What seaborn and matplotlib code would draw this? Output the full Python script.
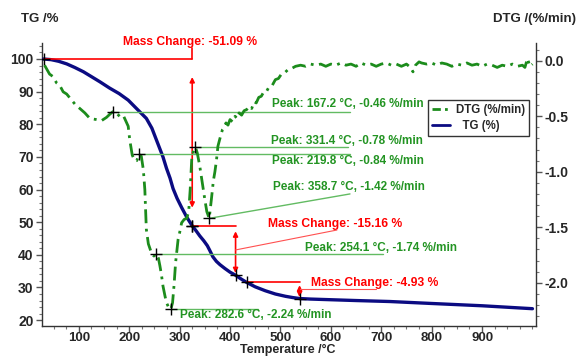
import numpy as np
import pandas as pd
import matplotlib
matplotlib.use("Agg")
import matplotlib.pyplot as plt
import seaborn as sns
from matplotlib.ticker import MultipleLocator
from matplotlib.lines import Line2D

# ---- measured data -------------------------------------------------------
tg_temp = [30, 45, 60, 76, 92, 109, 125, 142, 161, 180, 198, 214, 234, 245, 254,
           267, 274, 281, 287, 295, 304, 314, 320, 325, 333, 340, 348, 355, 360,
           366, 373, 380, 390, 400, 411, 422, 433, 450, 470, 490, 510, 525, 538,
           560, 600, 650, 717, 800, 900, 1000]
tg_mass = [100.0, 99.8, 99.3, 98.5, 97.4, 96.1, 94.6, 93.0, 91.1, 89.4, 87.4, 84.9,
           81.8, 78.8, 75.2, 70.0, 66.5, 63.5, 60.3, 57.3, 54.5, 51.6, 50.1, 48.91,
           47.3, 45.8, 44.3, 42.8, 41.3, 39.4, 38.0, 37.0, 35.8, 34.7, 33.75, 32.6,
           31.55, 30.2, 29.0, 28.0, 27.3, 26.9, 26.62, 26.45, 26.25, 26.0, 25.7,
           25.1, 24.4, 23.5]

dtg_temp = [32, 42, 48, 56, 62, 69, 76, 85, 94, 102, 112, 122, 135, 145, 155, 162,
            167.2, 174, 181, 188, 194, 198, 201, 206, 211, 215, 219.8, 224, 228,
            231, 234, 238, 244, 249, 254.1, 258, 261, 264, 267, 271, 274, 278,
            282.6, 286, 289, 292, 297, 300, 304, 309, 314, 318, 321, 324, 328,
            331.4, 335, 340, 345, 350, 354, 358.7, 363, 367, 370, 373, 376, 380,
            385, 388, 392, 396, 400, 405, 410, 414, 418, 423, 428, 433, 438, 443,
            448, 452, 457, 462, 467, 472, 478, 484, 490, 496, 502, 508, 515, 522,
            530, 540, 550, 560, 570, 580, 590, 600, 610, 620, 630, 640, 650, 660,
            670, 680, 690, 700, 710, 720, 730, 740, 750, 758, 763, 768, 775, 780,
            790, 800, 810, 820, 830, 840, 850, 860, 870, 880, 890, 900, 910, 920,
            930, 940, 950, 960, 970, 980, 985, 990, 995, 1000]
dtg_rate = [-0.04, -0.12, -0.14, -0.20, -0.22, -0.28, -0.30, -0.35, -0.40, -0.43,
            -0.47, -0.52, -0.53, -0.54, -0.51, -0.48, -0.46, -0.47, -0.50, -0.49,
            -0.55, -0.59, -0.71, -0.85, -0.90, -0.90, -0.84, -0.86, -0.98, -1.16,
            -1.52, -1.65, -1.73, -1.76, -1.74, -1.78, -1.85, -1.93, -2.03, -2.12,
            -2.18, -2.22, -2.24, -2.18, -2.02, -1.82, -1.61, -1.55, -1.46, -1.43,
            -1.42, -1.36, -1.16, -0.89, -0.80, -0.78, -0.83, -0.95, -1.10, -1.25,
            -1.36, -1.42, -1.25, -1.08, -1.00, -0.90, -0.77, -0.70, -0.62, -0.60,
            -0.56, -0.58, -0.53, -0.55, -0.50, -0.52, -0.47, -0.49, -0.45, -0.44,
            -0.41, -0.43, -0.37, -0.38, -0.33, -0.32, -0.28, -0.28, -0.23, -0.22,
            -0.17, -0.16, -0.12, -0.11, -0.08, -0.07, -0.05, -0.04, -0.05, -0.03,
            -0.04, -0.03, -0.05, -0.03, -0.04, -0.02, -0.04, -0.03, -0.05, -0.02,
            -0.04, -0.03, -0.05, -0.03, -0.02, -0.04, -0.03, -0.05, -0.03, -0.06,
            -0.10, -0.04, -0.01, -0.02, -0.03, -0.02, -0.04, -0.02, -0.03, -0.05,
            -0.03, -0.04, -0.02, -0.04, -0.03, -0.05, -0.03, -0.04, -0.06, -0.04,
            -0.05, -0.03, -0.05, -0.04, -0.06, 0.02, -0.05, -0.03]

peak_temp = [167.2, 331.4, 219.8, 358.7, 254.1, 282.6]
peak_rate = [-0.46, -0.78, -0.84, -1.42, -1.74, -2.24]

step_start = [30, 325, 433]
step_end = [325, 411, 538]
mass_change = [-51.09, -15.16, -4.93]

# ---- styling -------------------------------------------------------------
sns.set_theme(style="white")
plt.rcParams["font.family"] = ["Liberation Sans", "DejaVu Sans"]
plt.rcParams["font.weight"] = "bold"

NAVY = "#0b0b82"
GREEN = "#1c8c1c"
GREEN_TXT = "#239423"
GREEN_LINE = "#62bb62"
RED = "#ff0000"

fig = plt.figure(figsize=(5.77, 3.56), dpi=100)
ax = fig.add_axes([42 / 577, 1 - 326 / 356, 494 / 577, 283 / 356])
ax2 = ax.twinx()

tg = pd.DataFrame({"T": tg_temp, "TG": tg_mass})
dtg = pd.DataFrame({"T": dtg_temp, "DTG": dtg_rate})

sns.lineplot(data=tg, x="T", y="TG", ax=ax, color=NAVY, linewidth=2.4, sort=False,
             zorder=3)
sns.lineplot(data=dtg, x="T", y="DTG", ax=ax2, color=GREEN, linewidth=2.0,
             linestyle=(0, (5, 2, 1, 2)), sort=False, zorder=3)

ax.set_xlim(27, 1007)
ax.set_ylim(18.2, 104.9)
ax2.set_ylim(-2.39, 0.16)
ax.set_xlabel("")
ax.set_ylabel("")
ax2.set_ylabel("")

for a in (ax, ax2):
    a.grid(False)
    a.spines["top"].set_visible(False)
    for s in ("left", "right", "bottom"):
        a.spines[s].set_color("#333333")
        a.spines[s].set_linewidth(1.0)
ax.spines["right"].set_visible(False)
ax2.spines["left"].set_visible(False)
ax2.spines["bottom"].set_visible(False)

ax.xaxis.set_minor_locator(MultipleLocator(25))
ax.yaxis.set_minor_locator(MultipleLocator(2))
ax2.yaxis.set_minor_locator(MultipleLocator(0.1))
ax.set_xticks([100, 200, 300, 400, 500, 600, 700, 800, 900])
ax.set_yticks([20, 30, 40, 50, 60, 70, 80, 90, 100])
ax2.set_yticks([-2.0, -1.5, -1.0, -0.5, 0.0])
ax2.set_yticklabels(["-2.0", "-1.5", "-1.0", "-0.5", "0.0"])

for a in (ax, ax2):
    a.tick_params(which="major", direction="out", length=4, width=1,
                  color="#555555", labelsize=10, pad=2)
    a.tick_params(which="minor", direction="out", length=2, width=0.8,
                  color="#777777")
ax.tick_params(axis="x", which="major", pad=0, labelsize=9.5)
ax.tick_params(axis="y", which="both", left=True, right=False)
ax.tick_params(axis="x", which="both", bottom=True)
ax2.tick_params(axis="y", which="both", right=True, left=False)
for lab in ax.get_xticklabels() + ax.get_yticklabels() + ax2.get_yticklabels():
    lab.set_fontweight("bold")

# ---- axis titles ---------------------------------------------------------
fig.text(40 / 577, 1 - 19 / 356, "TG /%", ha="center", va="center",
         fontsize=9.5, fontweight="bold")
fig.text(0.999, 1 - 19 / 356, "DTG /(%/min)", ha="right", va="center",
         fontsize=9.5, fontweight="bold")
fig.text(288 / 577, 1 - 349.8 / 356, "Temperature /°C", ha="center",
         va="center", fontsize=9, fontweight="bold")

# ---- DTG peak annotations ------------------------------------------------
label_pos = [(483.3, -0.39), (481.3, -0.723), (483.3, -0.903), (485.3, -1.1375),
             (548.7, -1.683), (300.8, -2.291)]
line_end = [(638, None), (634, None), (638, None), (638, -1.20), (703.5, None),
            (455.5, None)]
for t, r, (lx, ly), (ex, ey) in zip(peak_temp, peak_rate, label_pos, line_end):
    ax2.plot([t, ex], [r, r if ey is None else ey], color=GREEN_LINE, lw=1.0,
             zorder=2)
    ax2.plot([t], [r], marker="+", color="black", ms=8, mew=1.0, zorder=5)
    ax2.text(lx, ly, f"Peak: {t:.1f} °C, {r:.2f} %/min", color=GREEN_TXT,
             fontsize=8.5, fontweight="bold", ha="left", va="center", zorder=6)

# ---- TG mass-change steps ------------------------------------------------
start_level = [float(np.interp(s, tg_temp, tg_mass)) for s in step_start]
end_level = [lvl + dm for lvl, dm in zip(start_level, mass_change)]
shrink = [(13, 13), (4, 1.5), (2, 1)]

for i, (t0, t1, y0, y1) in enumerate(zip(step_start, step_end, start_level,
                                         end_level)):
    ax.plot([t0, t1], [y0, y0], color=RED, lw=1.2, zorder=4)
    ax.annotate("", xy=(t1, y1), xytext=(t1, y0),
                arrowprops=dict(arrowstyle="<|-|>", color=RED, lw=1.2,
                                mutation_scale=7, shrinkA=shrink[i][0],
                                shrinkB=shrink[i][1]), zorder=4)
    ax.plot([t0], [y0], marker="+", color="black", ms=8, mew=1.0, zorder=5)
    ax.plot([t1], [y1], marker="+", color="black", ms=8, mew=1.0, zorder=5)

# first step: vertical leader up to its label
ax.plot([step_end[0], step_end[0]], [103.4, start_level[0]], color=RED, lw=1.2,
        zorder=4, clip_on=False)
ax.text(321.6, 105.2, f"Mass Change: {mass_change[0]:.2f} %", color=RED,
        fontsize=8.7, fontweight="bold", ha="center", va="center")

# second step: slanted leader
ax.plot([step_end[1], 612], [41.5, 47.6], color="#ff5050", lw=0.8, zorder=4)
ax.text(475.3, 49.45, f"Mass Change: {mass_change[1]:.2f} %", color=RED,
        fontsize=8.7, fontweight="bold", ha="left", va="center")

# third step: horizontal leader
ax.plot([step_end[2], 690], [29.4, 29.4], color="#ff5050", lw=0.8, zorder=4)
ax.text(560.6, 31.4, f"Mass Change: {mass_change[2]:.2f} %", color=RED,
        fontsize=8.7, fontweight="bold", ha="left", va="center")

# ---- legend --------------------------------------------------------------
handles = [Line2D([], [], color=GREEN, lw=2.0, linestyle=(0, (3, 1.5, 1, 1.5))),
           Line2D([], [], color=NAVY, lw=2.0)]
leg = ax2.legend(handles, ["DTG (%/min)", "  TG (%)"], loc="upper left",
                 bbox_to_anchor=(0.781, 0.800), frameon=True, fancybox=False,
                 edgecolor="#333333", framealpha=1, fontsize=8.3,
                 handlelength=1.6, handletextpad=0.5, borderpad=0.35,
                 labelspacing=0.35, borderaxespad=0)
leg.get_frame().set_linewidth(1.0)
for txt in leg.get_texts():
    txt.set_fontweight("bold")

fig.savefig("out.png", dpi=100)
